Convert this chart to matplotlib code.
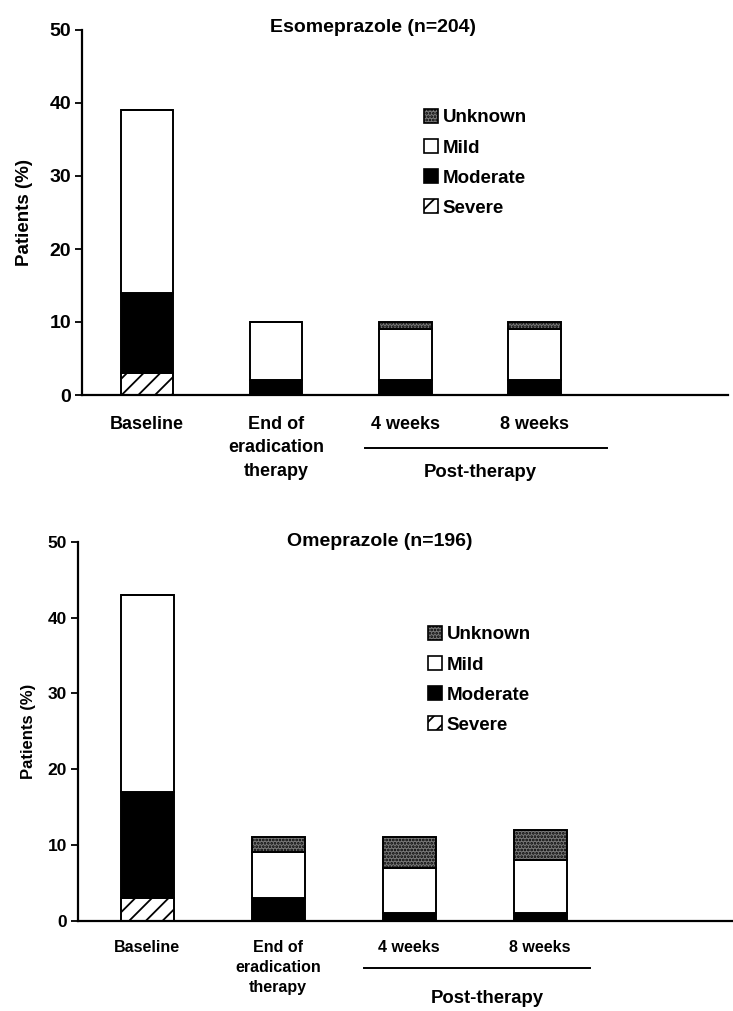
import matplotlib
matplotlib.use("Agg")
import matplotlib.pyplot as plt
from matplotlib.patches import Patch
import numpy as np

plt.rcParams['font.family'] = ['Liberation Sans', 'DejaVu Sans']
plt.rcParams['hatch.linewidth'] = 1.3

categories = ["Baseline", "End of\neradication\ntherapy", "4 weeks", "8 weeks"]
severity = ["Severe", "Moderate", "Mild", "Unknown"]

eso_title = "Esomeprazole (n=204)"
eso_severe = [3, 0, 0, 0]
eso_moderate = [11, 2, 2, 2]
eso_mild = [25, 8, 7, 7]
eso_unknown = [0, 0, 1, 1]

ome_title = "Omeprazole (n=196)"
ome_severe = [3, 0, 0, 0]
ome_moderate = [14, 3, 1, 1]
ome_mild = [26, 6, 6, 7]
ome_unknown = [0, 2, 4, 4]

yticks = [0, 10, 20, 30, 40, 50]
group_label = "Post-therapy"
ylabel = "Patients (%)"

styles = {
    "Severe": dict(facecolor="white", hatch="//"),
    "Moderate": dict(facecolor="black", hatch=None),
    "Mild": dict(facecolor="white", hatch=None),
    "Unknown": dict(facecolor="#787878", hatch="....."),
}

W, H = 733, 1011
fig = plt.figure(figsize=(W / 100, H / 100), dpi=100)


def px_axes(l, r, top, bottom):
    return fig.add_axes([l / W, 1 - bottom / H, (r - l) / W, (bottom - top) / H])


def draw(ax, series, title, title_x, title_y, xlim, fs_tick, fs_cat, cat_pad, cat_ls,
         fs_ylab, line_x, line_y, txt_x, txt_y, leg_xy, ylab_x):
    x = np.arange(len(categories))
    bottom = np.zeros(len(categories))
    for name, vals in zip(severity, series):
        vals = np.array(vals, dtype=float)
        st = styles[name]
        ax.bar(x, vals, width=0.405, bottom=bottom, facecolor=st["facecolor"],
               hatch=st["hatch"], edgecolor="black", linewidth=1.4, zorder=2)
        bottom += vals
    ax.set_xlim(*xlim)
    ax.set_ylim(0, 50)
    ax.set_yticks(yticks)
    ax.set_yticklabels([str(t) for t in yticks], fontweight="bold")
    ax.tick_params(axis="y", direction="out", length=5, width=1.3,
                   labelsize=fs_tick, pad=3)
    ax.set_xticks(x)
    ax.set_xticklabels(categories, fontsize=fs_cat, linespacing=cat_ls,
                       fontweight="bold")
    ax.tick_params(axis="x", length=0, pad=cat_pad)
    for s in ["top", "right"]:
        ax.spines[s].set_visible(False)
    ax.spines["left"].set_linewidth(1.6)
    ax.spines["bottom"].set_linewidth(1.6)
    ax.text(title_x, title_y, title, fontsize=14, fontweight="bold",
            ha="center", va="center", transform=ax.transAxes)
    ax.set_ylabel(ylabel, fontsize=fs_ylab, fontweight="bold")
    ax.yaxis.set_label_coords(ylab_x, 0.5)
    ax.plot(line_x, [line_y, line_y], color="black", lw=1.4,
            transform=ax.get_xaxis_transform(), clip_on=False)
    ax.text(txt_x, txt_y, group_label, fontsize=13.3, fontweight="bold",
            ha="center", va="center", transform=ax.get_xaxis_transform())
    handles = [Patch(facecolor=styles[n]["facecolor"], hatch=styles[n]["hatch"],
                     edgecolor="black", linewidth=1.2, label=n)
               for n in ["Unknown", "Mild", "Moderate", "Severe"]]
    ax.legend(handles=handles, loc="upper left",
              bbox_to_anchor=(leg_xy[0] / W, 1 - leg_xy[1] / H),
              bbox_transform=fig.transFigure, frameon=False,
              prop=dict(size=13.5, weight="bold"),
              handlelength=0.75, handleheight=0.75, handletextpad=0.25,
              labelspacing=0.68, borderpad=0, borderaxespad=0)


ax1 = px_axes(82, 728, 30, 395)
draw(ax1, [eso_severe, eso_moderate, eso_mild, eso_unknown], eso_title,
     0.45, 1.008, (-0.503, 4.497), 14, 13, 15, 1.5, 13.5,
     [1.69, 3.56], -0.145, 2.58, -0.211, (424, 109), -0.076)

ax2 = px_axes(78, 733, 541.7, 920.7)
draw(ax2, [ome_severe, ome_moderate, ome_mild, ome_unknown], ome_title,
     0.461, 1.0, (-0.527, 4.473), 12.5, 11.5, 14, 1.42, 12,
     [1.66, 3.38], -0.125, 2.6, -0.204, (428, 626), -0.064)

fig.savefig("out.png", dpi=100)
